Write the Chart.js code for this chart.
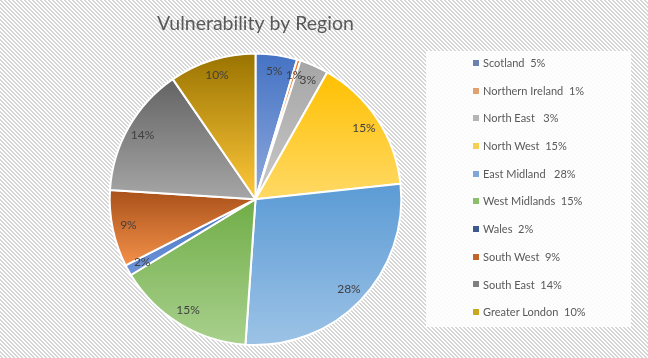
<!DOCTYPE html>
<html><head><meta charset="utf-8">
<script src="https://cdn.jsdelivr.net/npm/chart.js@4.4.1/dist/chart.umd.min.js"></script>
<style>
html,body{margin:0;padding:0;width:648px;height:358px;overflow:hidden;}
body{position:relative;background-color:#fff;}
#c{position:absolute;left:0;top:0;}
#legendBox{position:absolute;left:426px;top:51px;width:205px;height:276px;background:rgba(255,255,255,0.88);}
#legend{position:absolute;left:473px;top:49px;margin:0;padding:0;list-style:none;font-family:Lato,'Liberation Sans',sans-serif;font-size:11px;color:#595959;}
#legend li{height:27.7px;line-height:27.7px;white-space:pre;display:flex;align-items:center;}
#legend li .m{width:6px;height:6px;margin-right:4px;flex:none;}
</style></head>
<body>
<canvas id="c" width="648" height="358"></canvas>
<div id="legendBox"></div>
<ul id="legend"></ul>
<script>
const categories = ['Scotland','Northern Ireland','North East','North West','East Midland','West Midlands','Wales','South West','South East','Greater London'];
const values = [4.6, 0.4, 3.2, 15.1, 27.8, 15.2, 1.2, 8.5, 14.4, 9.6];
const legendLabels = ['Scotland  5%','Northern Ireland  1%','North East   3%','North West  15%','East Midland   28%','West Midlands  15%','Wales  2%','South West  9%','South East  14%','Greater London  10%'];
const dataLabels = ['5%','1%','3%','15%','28%','15%','2%','9%','14%','10%'];
const topColors = ['#4472C4','#ED7D31','#A5A5A5','#FFC000','#5B9BD5','#70AD47','#4472C4','#A9511A','#636363','#997300'];
const bottomColors = ['#8FAADC','#F4B183','#C9C9C9','#FFD966','#9DC3E6','#A9D18E','#6F94D8','#F4914A','#A6A6A6','#FFC83A'];
const legendColors = ['#6B82B0','#E0A070','#B5B5B5','#F5D050','#7FA8D8','#8CBF6A','#3E5A8C','#C0642A','#808080','#C9A820'];

// striped background
(function(){
  const t=document.createElement('canvas'); t.width=4; t.height=4;
  const x=t.getContext('2d'); x.fillStyle='#fff'; x.fillRect(0,0,4,4);
  x.fillStyle='#d6d6d6';
  for(let y=0;y<4;y++){ x.fillRect(y,y,1,1); x.fillRect((y+1)%4,y,1,1); }
  document.body.style.backgroundImage='url('+t.toDataURL()+')';
})();

// HTML legend
const ul=document.getElementById('legend');
legendLabels.forEach((t,i)=>{
  const li=document.createElement('li');
  const m=document.createElement('span'); m.className='m'; m.style.background=legendColors[i];
  li.appendChild(m); li.appendChild(document.createTextNode(t)); ul.appendChild(li);
});

function sliceGradient(ctx){
  const chart=ctx.chart, ca=chart.chartArea, i=ctx.dataIndex;
  if(!ca) return topColors[i];
  const cx=(ca.left+ca.right)/2, cy=(ca.top+ca.bottom)/2;
  const R=Math.min(ca.right-ca.left, ca.bottom-ca.top)/2;
  const total=values.reduce((a,b)=>a+b,0);
  let cum=0; for(let k=0;k<i;k++) cum+=values[k];
  const a0=-Math.PI/2+cum/total*2*Math.PI, a1=a0+values[i]/total*2*Math.PI;
  const ys=[cy, cy+R*Math.sin(a0), cy+R*Math.sin(a1)];
  [-Math.PI/2, Math.PI/2, 3*Math.PI/2].forEach(q=>{ if(q>a0&&q<a1) ys.push(cy+R*Math.sin(q)); });
  const y0=Math.min(...ys), y1=Math.max(...ys);
  const g=chart.ctx.createLinearGradient(0,y0,0,y1+0.01);
  g.addColorStop(0,topColors[i]); g.addColorStop(1,bottomColors[i]);
  return g;
}

const labelPlugin={
  id:'sliceLabels',
  afterDatasetsDraw(chart){
    const c=chart.ctx, meta=chart.getDatasetMeta(0);
    c.save();
    c.font='12px Lato, "Liberation Sans", sans-serif';
    c.fillStyle='#404040'; c.textAlign='center'; c.textBaseline='middle';
    meta.data.forEach((a,i)=>{
      const mid=(a.startAngle+a.endAngle)/2, r=a.outerRadius*0.89;
      c.fillText(dataLabels[i], a.x+r*Math.cos(mid), a.y+r*Math.sin(mid));
    });
    c.restore();
  }
};

new Chart(document.getElementById('c'),{
  type:'pie',
  data:{labels:categories,datasets:[{data:values,backgroundColor:sliceGradient,borderColor:'#ffffff',borderWidth:2}]},
  options:{
    responsive:false, animation:false, events:[], devicePixelRatio:1,
    layout:{padding:{left:108,right:245,top:0,bottom:12}},
    plugins:{
      legend:{display:false}, tooltip:{enabled:false},
      title:{display:true,text:'Vulnerability by Region',color:'#595959',
        font:{family:'Lato, "Liberation Sans", sans-serif',size:19.5,weight:'normal'},padding:{top:12,bottom:17}}
    }
  },
  plugins:[labelPlugin]
});
</script>
</body></html>
